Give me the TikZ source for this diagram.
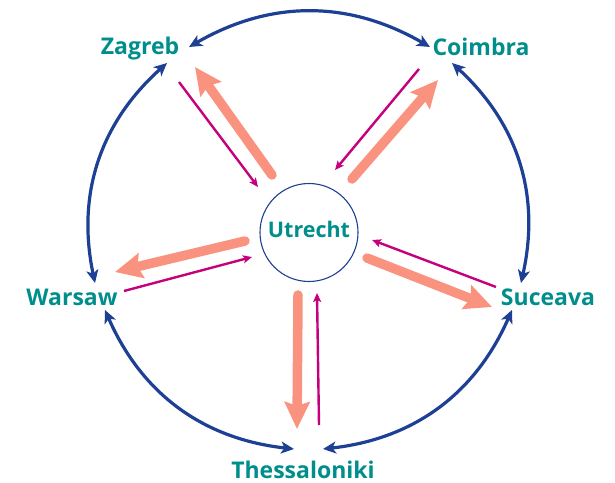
\documentclass[tikz,border=0pt]{standalone}
\usepackage{fontspec}
\setmainfont{Open Sans}
\usetikzlibrary{arrows.meta}
\definecolor{cteal}{HTML}{008E8C}
\definecolor{cnavy}{HTML}{1D3F94}
\definecolor{csalmon}{HTML}{F9937F}
\definecolor{cmag}{HTML}{C4007C}
\tikzset{
  city/.style={text=cteal, font=\fontsize{23}{27}\selectfont\bfseries, anchor=base, inner sep=0pt},
  ring/.style={cnavy, line width=3.2pt, {Stealth[length=13pt,width=12pt,inset=3.5pt]}-{Stealth[length=13pt,width=12pt,inset=3.5pt]}, bend left=30},
  outflow/.style={csalmon, line width=9.5pt, line cap=round, -{Stealth[length=27pt,width=25pt,inset=4pt]}},
  inflow/.style={cmag, line width=2.4pt, -{Stealth[length=9pt,width=8pt,inset=2pt]}},
  hub/.style={circle, draw=cnavy, line width=1.1pt, minimum size=98pt, inner sep=0pt}
}
\begin{document}
\begin{tikzpicture}[x=1pt,y=1pt]
\useasboundingbox (0,0) rectangle (615,482);
% nodes
\node[hub] (utr) at (309,249.5) {};
\node[city, font=\fontsize{21.5}{25}\selectfont\bfseries] (utrT) at (309,244) {Utrecht};
\node[city] (zag) at (140,427) {Zagreb};
\node[city] (coi) at (481,426) {Coimbra};
\node[city] (war) at (72,176) {Warsaw};
\node[city] (suc) at (548,176) {Suceava};
\node[city] (the) at (303,4) {Thessaloniki};
% ring endpoints
\coordinate (zA) at (189,435);
\coordinate (cA) at (430,435);
\coordinate (cB) at (452,419);
\coordinate (sA) at (521,199);
\coordinate (sB) at (512,172);
\coordinate (tB) at (323,33);
\coordinate (tA) at (294,33);
\coordinate (wB) at (105,172);
\coordinate (wA) at (95,199);
\coordinate (zB) at (167,419);
\draw[ring] (zA) to (cA);
\draw[ring] (cB) to (sA);
\draw[ring] (sB) to (tB);
\draw[ring] (tA) to (wB);
\draw[ring] (wA) to (zB);
% radial flow endpoints
\coordinate (zo1) at (272,307); \coordinate (zo2) at (195,415);
\coordinate (zi1) at (179,400); \coordinate (zi2) at (258,295);
\coordinate (co1) at (352,303); \coordinate (co2) at (438,402);
\coordinate (ci1) at (419,413); \coordinate (ci2) at (335,312);
\coordinate (wo1) at (245,241); \coordinate (wo2) at (115,210);
\coordinate (wi1) at (124,191); \coordinate (wi2) at (252,225);
\coordinate (so1) at (367,224); \coordinate (so2) at (492,175);
\coordinate (si1) at (496,195); \coordinate (si2) at (372,242);
\coordinate (to1) at (298,187); \coordinate (to2) at (297,53);
\coordinate (ti1) at (319,57); \coordinate (ti2) at (317,189);
\draw[outflow] (zo1) -- (zo2);
\draw[inflow] (zi1) -- (zi2);
\draw[outflow] (co1) -- (co2);
\draw[inflow] (ci1) -- (ci2);
\draw[outflow] (wo1) -- (wo2);
\draw[inflow] (wi1) -- (wi2);
\draw[outflow] (so1) -- (so2);
\draw[inflow] (si1) -- (si2);
\draw[outflow] (to1) -- (to2);
\draw[inflow] (ti1) -- (ti2);
\end{tikzpicture}
\end{document}
